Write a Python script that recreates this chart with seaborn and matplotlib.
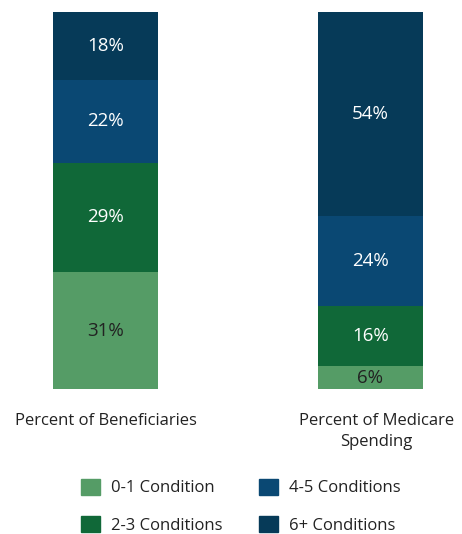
import numpy as np
import pandas as pd
import matplotlib
matplotlib.use("Agg")
import matplotlib.pyplot as plt
import matplotlib.patches as mpatches
import matplotlib.transforms as mtransforms
import seaborn as sns

# данные
groups = ["Percent of Beneficiaries", "Percent of Medicare\nSpending"]
conditions = ["0-1 Condition", "2-3 Conditions", "4-5 Conditions", "6+ Conditions"]
beneficiaries = [31, 29, 22, 18]
spending = [6, 16, 24, 54]
colors = ["#559c66", "#106838", "#0a4873", "#063a58"]
label_colors = ["#222222", "white", "white", "white"]

sns.set_style("white")
plt.rcParams["font.family"] = ["Open Sans", "DejaVu Sans"]

fig = plt.figure(figsize=(4.62, 5.34), dpi=100)
ax = fig.add_axes([0, 1 - 389 / 534, 1, 377 / 534])

values = np.array([beneficiaries, spending])  # группы x состояния
cum = values.cumsum(axis=1)

# накопленные столбцы: рисуем от верхнего сегмента к нижнему
for k in range(len(conditions) - 1, -1, -1):
    df = pd.DataFrame({"group": groups, "value": cum[:, k]})
    sns.barplot(data=df, x="group", y="value", color=colors[k], width=0.396,
                saturation=1, ax=ax, linewidth=0, order=groups)

# подписи сегментов
for i in range(len(groups)):
    bottom = 0
    for k in range(len(conditions)):
        v = values[i, k]
        ax.text(i, bottom + v / 2, f"{v}%", ha="center", va="center",
                fontsize=13.5, color=label_colors[k])
        bottom += v

ax.set_ylim(0, 100)
ax.set_xlim(-105.5 / 265, (462 - 105.5) / 265)
ax.set_yticks([])
ax.set_xlabel("")
ax.set_ylabel("")
ax.tick_params(axis="x", length=0, pad=17.5, labelsize=12, labelcolor="#222222")
for lbl in ax.get_xticklabels():
    lbl.set_linespacing(1.4)
# правая подпись в оригинале чуть смещена вправо
right = ax.get_xticklabels()[1]
right.set_transform(right.get_transform() +
                    mtransforms.ScaledTranslation(6 / 100, 0, fig.dpi_scale_trans))
sns.despine(ax=ax, left=True, bottom=True)

handles = [mpatches.Patch(color=c, label=l) for c, l in zip(colors, conditions)]
fig.legend(handles=handles, ncol=2, loc="center", bbox_to_anchor=(0.522, 0.052),
           frameon=False, fontsize=12, handlelength=1.1, handleheight=1.1,
           columnspacing=2.2, handletextpad=0.7, labelcolor="#222222",
           labelspacing=1.2)

plt.savefig("out.png", dpi=100)
